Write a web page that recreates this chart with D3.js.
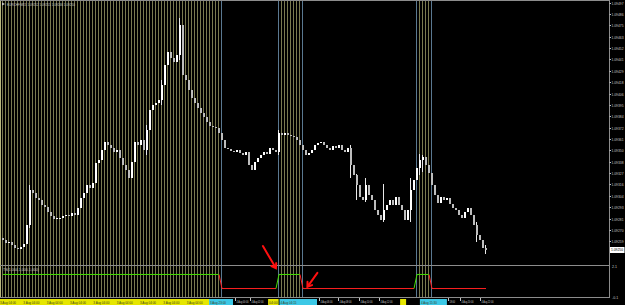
<!DOCTYPE html>
<html>
<head>
<meta charset="utf-8">
<script src="https://cdn.jsdelivr.net/npm/d3@7"></script>
<style>
  body { margin: 0; background: #000; }
  svg { display: block; }
  text { font-family: "Liberation Sans", "DejaVu Sans", sans-serif; }
</style>
</head>
<body>
<div id="chart"></div>
<script>
// closes of each M15 bar
const closes = [
  1.09260, 1.09257, 1.09258, 1.09255, 1.09252, 1.09251, 1.09253, 1.09256, 1.09275, 1.09310,
  1.09307, 1.09302, 1.09300, 1.09295, 1.09293, 1.09288, 1.09284, 1.09281, 1.09282, 1.09282,
  1.09284, 1.09285, 1.09284, 1.09287, 1.09285, 1.09292, 1.09302, 1.09307, 1.09315, 1.09312,
  1.09317, 1.09337, 1.09340, 1.09350, 1.09358, 1.09355, 1.09352, 1.09348, 1.09350, 1.09342,
  1.09335, 1.09330, 1.09322, 1.09338, 1.09358, 1.09355, 1.09360, 1.09350, 1.09370, 1.09390,
  1.09395, 1.09397, 1.09400, 1.09415, 1.09435, 1.09448, 1.09442, 1.09438, 1.09445, 1.09475,
  1.09425, 1.09420, 1.09410, 1.09402, 1.09397, 1.09392, 1.09387, 1.09383, 1.09378, 1.09374,
  1.09373, 1.09372, 1.09367, 1.09360, 1.09352, 1.09351, 1.09349, 1.09348, 1.09350, 1.09347,
  1.09345, 1.09348, 1.09335, 1.09330, 1.09338, 1.09342, 1.09345, 1.09348, 1.09346, 1.09352,
  1.09350, 1.09348, 1.09367, 1.09365, 1.09367, 1.09365, 1.09364, 1.09363, 1.09360, 1.09355,
  1.09350, 1.09345, 1.09347, 1.09350, 1.09355, 1.09357, 1.09358, 1.09355, 1.09352, 1.09350,
  1.09354, 1.09352, 1.09355, 1.09350, 1.09348, 1.09352, 1.09335, 1.09325, 1.09315, 1.09303,
  1.09300, 1.09315, 1.09305, 1.09300, 1.09290, 1.09285, 1.09280, 1.09290, 1.09295, 1.09300,
  1.09295, 1.09303, 1.09295, 1.09290, 1.09280, 1.09290, 1.09310, 1.09320, 1.09332, 1.09340,
  1.09343, 1.09335, 1.09327, 1.09315, 1.09305, 1.09297, 1.09303, 1.09300, 1.09302, 1.09296,
  1.09292, 1.09290, 1.09285, 1.09282, 1.09288, 1.09292, 1.09285, 1.09275, 1.09265, 1.09260,
  1.09252, 1.09250
];
const firstOpen = 1.09262;
// [bar, high, low] where the wick sticks out of the body
const wicks = [
  [9, 1.09315, 1.09272], [48, 1.09375, 1.09345], [53, 1.09420, 1.09395], [59, 1.09482, 1.09440],
  [92, 1.09370, 1.09345], [116, 1.09355, 1.09322], [118, 1.09326, 1.09300], [121, 1.09322, 1.09298],
  [127, 1.09316, 1.09278], [136, 1.09322, 1.09278], [139, 1.09346, 1.09325], [140, 1.09345, 1.09328],
  [158, 1.09278, 1.09258], [161, 1.09255, 1.09246]
];
const priceTicks = [
  1.09497, 1.09486, 1.09475, 1.09463, 1.09452, 1.09441, 1.09429, 1.09418, 1.09406, 1.09395,
  1.09384, 1.09372, 1.09361, 1.09350, 1.09338, 1.09327, 1.09316, 1.09304, 1.09293, 1.09281,
  1.09270, 1.09259
];
const lastPrice = 1.09250;
const symbolTitle = "EURCHF,M15  1.09252 1.09255 1.09246 1.09250";

// indicator state runs: [firstBar, lastBar, state]
const runs = [[0, 72, "up"], [73, 91, "dn"], [92, 99, "up"], [100, 137, "dn"], [138, 142, "up"], [143, 161, "dn"]];
const levels = { up: 1.5, dn: 0.5 };
const subTicks = [2.1, -0.1];
const subTitle = "TS(1,004,1,000,1,000)";

// time axis labels: [bar, text]
const timeLabels = [
  [77.5, "4 Aug 00:00"], [82.7, "4 Aug 02:00"], [105.5, "4 Aug 06:00"], [112, "4 Aug 08:00"],
  [119, "4 Aug 10:00"], [125.5, "4 Aug 12:00"], [148.7, "18:00"], [152.7, "4 Aug 20:00"],
  [159.3, "4 Aug 22:00"]
];
// highlighted object labels on the time axis: [fromBar, toBar, kind, text]
const axisBands = [
  [-1, 69, "line", "3 Aug 04:00"], [69, 77, "edge", "3 Aug 23:00"], [88.7, 92.2, "line", "04:00"],
  [92.5, 105, "edge", "4 Aug 04:15"], [132.7, 134.7, "line", ""], [139.3, 148.3, "edge", "4 Aug 15:30"]
];
// hand drawn red arrows: [bar, value] of the tip, tail offset in px
const arrows = [[91.3, 1.95, -13, -22], [101.8, 0.62, 10, -14]];

const W = 625, H = 305;
const plotRight = 609, mainBottom = 265, subTop = 266, subBottom = 297;
const fs = "3.6px";

const svg = d3.select("#chart").append("svg")
  .attr("width", W).attr("height", H)
  .style("background", "#000");

const x = d3.scaleLinear().domain([0, 161]).range([2, 485]);
const y = d3.scaleLinear().domain([1.09235, 1.09500]).range([mainBottom, 0]);
const ySub = d3.scaleLinear().domain([-0.1, 2.1]).range([subBottom, subTop]);

// vertical signal lines
runs.filter(r => r[2] === "up").forEach(r => {
  for (let b = r[0]; b <= r[1] + 1; b++) {
    let edge = b === r[1] + 1 || (b === r[0] && r[0] > 0);
    svg.append("line")
      .attr("x1", Math.round(x(b)) + 0.5).attr("x2", Math.round(x(b)) + 0.5)
      .attr("y1", 1).attr("y2", 298)
      .attr("stroke", edge ? "#5a7890" : "#7a7a50")
      .attr("stroke-width", 1);
  }
});
svg.append("line").attr("x1", 0.5).attr("x2", 0.5).attr("y1", 1).attr("y2", 298)
  .attr("stroke", "#b8b880");

// candles
const bars = closes.map((c, i) => {
  let o = i ? closes[i - 1] : firstOpen;
  let w = wicks.find(d => d[0] === i);
  return { i, o, c, h: w ? w[1] : Math.max(o, c), l: w ? w[2] : Math.min(o, c) };
});

const candles = svg.append("g");
candles.selectAll(".wick").data(bars).enter().append("line")
  .attr("x1", d => Math.round(x(d.i)) + 0.5).attr("x2", d => Math.round(x(d.i)) + 0.5)
  .attr("y1", d => y(d.h)).attr("y2", d => y(d.l))
  .attr("stroke", "#e8e8e8");
candles.selectAll(".body").data(bars).enter().append("rect")
  .attr("x", d => Math.round(x(d.i)))
  .attr("width", 2)
  .attr("y", d => y(Math.max(d.o, d.c)))
  .attr("height", d => Math.max(1, Math.abs(y(d.o) - y(d.c))))
  .attr("fill", d => d.c >= d.o ? "#ffffff" : "#bdbdbd");

// frame lines
svg.append("line").attr("x1", 0).attr("x2", plotRight).attr("y1", 0.5).attr("y2", 0.5).attr("stroke", "#8c8c8c");
svg.append("line").attr("x1", 0).attr("x2", plotRight).attr("y1", mainBottom + 0.5).attr("y2", mainBottom + 0.5).attr("stroke", "#8c8c8c");
svg.append("line").attr("x1", 0).attr("x2", plotRight).attr("y1", subBottom + 0.5).attr("y2", subBottom + 0.5).attr("stroke", "#8c8c8c");
svg.append("line").attr("x1", plotRight + 0.5).attr("x2", plotRight + 0.5).attr("y1", 0).attr("y2", 298).attr("stroke", "#8c8c8c");

// price axis
const yAxis = d3.axisRight(y).tickValues(priceTicks).tickSize(1.5).tickPadding(0.5).tickFormat(d3.format(".5f"));
const yg = svg.append("g").attr("transform", "translate(" + (plotRight + 0.5) + ",0)").call(yAxis);
yg.select(".domain").remove();
yg.selectAll("line").attr("stroke", "#c0c0c0");
yg.selectAll("text").attr("fill", "#c8c8c8").style("font-size", fs)
  .attr("textLength", 12).attr("lengthAdjust", "spacingAndGlyphs");

const lp = svg.append("g").attr("transform", "translate(" + (plotRight + 1) + "," + y(lastPrice) + ")");
lp.append("rect").attr("x", 0).attr("y", -3).attr("width", 14.5).attr("height", 6).attr("fill", "#ffffff");
lp.append("text").attr("x", 1).attr("y", 1.4).attr("fill", "#000").style("font-size", fs)
  .attr("textLength", 12).attr("lengthAdjust", "spacingAndGlyphs")
  .text(d3.format(".5f")(lastPrice));

// indicator subwindow
subTicks.forEach(t => {
  svg.append("text").attr("x", plotRight + 3).attr("y", ySub(t) + 2)
    .attr("fill", "#c8c8c8").style("font-size", fs).text(t);
});

runs.forEach((r, k) => {
  let pts = [];
  let start = k > 0 ? r[0] - 1 : r[0];
  for (let b = start; b <= r[1]; b++) {
    let st = runs.find(q => b >= q[0] && b <= q[1])[2];
    pts.push([x(b) + 1, ySub(levels[st])]);
  }
  svg.append("path")
    .attr("d", d3.line()(pts))
    .attr("fill", "none")
    .attr("stroke", r[2] === "up" ? "#44e000" : "#ff2020")
    .attr("stroke-width", 1);
});

svg.append("text").attr("x", 3).attr("y", 271).attr("fill", "#c8c8c8").style("font-size", fs)
  .attr("textLength", 36).attr("lengthAdjust", "spacingAndGlyphs").text(subTitle);
svg.append("text").attr("x", 7).attr("y", 5.5).attr("fill", "#c8c8c8").style("font-size", fs)
  .attr("textLength", 68).attr("lengthAdjust", "spacingAndGlyphs").text(symbolTitle);
svg.append("path").attr("d", "M2,2.5 L5,4 L2,5.5 Z").attr("fill", "#c8c8c8");

// time axis
const tg = svg.append("g");
axisBands.forEach(b => {
  let x0 = x(b[0]), x1 = x(b[1]);
  tg.append("rect").attr("x", x0).attr("y", 299).attr("width", x1 - x0).attr("height", 6)
    .attr("fill", b[2] === "line" ? "#e6e600" : "#3cc8e6");
  if (!b[3]) return;
  let n = Math.max(1, Math.floor((x1 - x0) / 21));
  let step = (x1 - x0) / n;
  for (let k = 0; k < n; k++) {
    tg.append("text").attr("x", x0 + k * step + 1).attr("y", 303.5).attr("fill", "#404020")
      .style("font-size", fs).attr("textLength", Math.min(16, step - 2)).attr("lengthAdjust", "spacingAndGlyphs")
      .text(b[3]);
  }
});
timeLabels.forEach(t => {
  let tx = Math.round(x(t[0]));
  tg.append("line").attr("x1", tx + 0.5).attr("x2", tx + 0.5).attr("y1", 298).attr("y2", 301).attr("stroke", "#c0c0c0");
  tg.append("text")
    .attr("transform", "translate(" + (tx + 1.5) + ",303) scale(0.62,1)")
    .attr("fill", "#c8c8c8").style("font-size", fs).text(t[1]);
});

// red arrows
arrows.forEach(a => {
  let tx = x(a[0]), ty = ySub(a[1]);
  let fx = tx + a[2], fy = ty + a[3];
  let ang = Math.atan2(ty - fy, tx - fx);
  let h1 = [tx - 5 * Math.cos(ang - 0.6), ty - 5 * Math.sin(ang - 0.6)];
  let h2 = [tx - 5 * Math.cos(ang + 0.6), ty - 5 * Math.sin(ang + 0.6)];
  svg.append("path")
    .attr("d", "M" + fx + "," + fy + " L" + tx + "," + ty + " M" + h1 + " L" + tx + "," + ty + " L" + h2)
    .attr("fill", "none").attr("stroke", "#ff1010").attr("stroke-width", 2)
    .attr("stroke-linecap", "round");
});
</script>
</body>
</html>
